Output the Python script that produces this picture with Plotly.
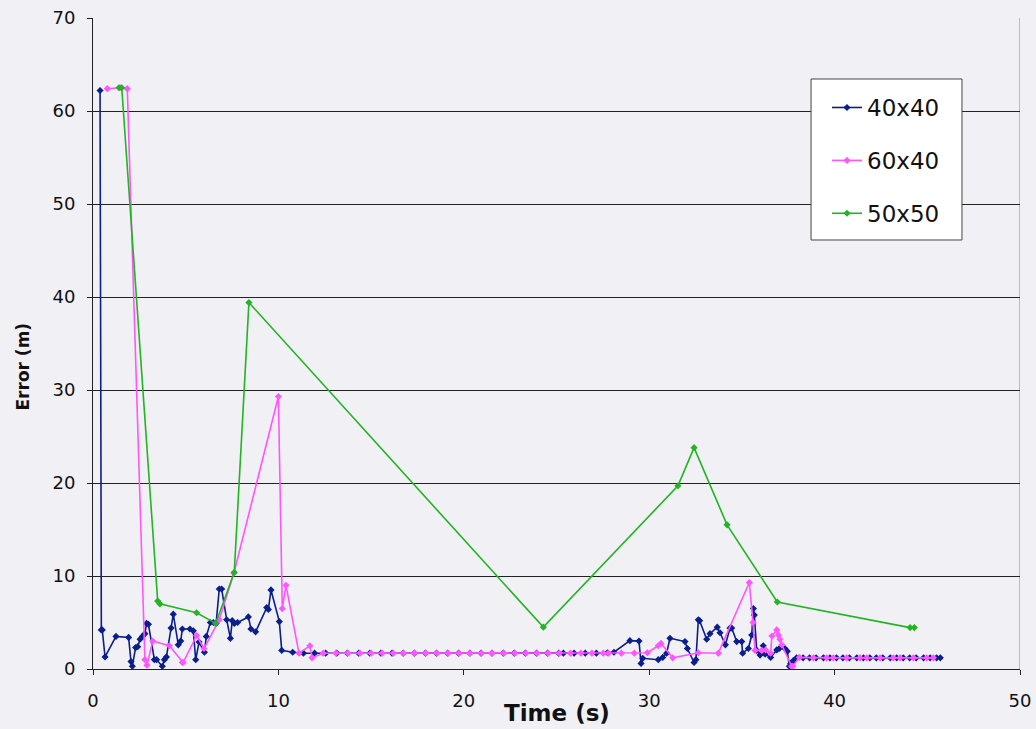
import plotly.graph_objects as go

# ---------------- data ----------------
t_40x40 = [0.38, 0.45, 0.50, 0.65, 1.24, 1.92, 2.05, 2.12, 2.30, 2.41, 2.54, 2.66, 2.80, 2.89, 2.99,
           3.31, 3.43, 3.74, 3.85, 3.96, 4.21, 4.33, 4.60, 4.73, 4.82, 5.23, 5.41, 5.54, 5.72, 6.01,
           6.11, 6.33, 6.49, 6.64, 6.81, 6.94, 7.21, 7.41, 7.51, 7.62, 7.80, 8.38, 8.52, 8.77, 9.37,
           9.46, 9.60, 10.05, 10.18, 10.77, 11.35, 11.95, 12.55, 13.15, 13.72, 14.33, 14.93, 15.53,
           16.13, 16.73, 17.33, 17.93, 18.53, 19.13, 19.72, 20.33, 20.93, 21.52, 22.13, 22.72, 23.32,
           23.93, 24.52, 25.12, 25.37, 25.95, 26.55, 27.15, 27.75, 28.10, 28.96, 29.45, 29.56, 29.65,
           30.49, 30.73, 30.94, 31.12, 31.93, 32.06, 32.42, 32.52, 32.65, 32.72, 33.10, 33.28, 33.67,
           33.82, 34.11, 34.36, 34.45, 34.72, 34.99, 35.04, 35.35, 35.53, 35.62, 35.67, 35.80, 35.98,
           36.15, 36.25, 36.55, 36.88, 37.02, 37.32, 37.45, 37.56, 37.63, 37.77, 37.95, 38.30, 38.65,
           39.00, 39.40, 39.75, 40.10, 40.45, 40.80, 41.20, 41.55, 41.90, 42.25, 42.60, 43.00, 43.35,
           43.70, 44.05, 44.40, 44.80, 45.15, 45.50, 45.70]
e_40x40 = [62.2, 4.2, 4.2, 1.3, 3.5, 3.4, 0.8, 0.3, 2.3, 2.4, 3.2, 3.5, 3.8, 4.9, 4.8,
           1.0, 1.0, 0.3, 1.0, 1.3, 4.4, 5.9, 2.6, 3.0, 4.3, 4.3, 4.1, 1.0, 2.9, 1.8,
           3.5, 5.0, 5.0, 4.9, 8.6, 8.6, 5.3, 3.3, 5.2, 4.9, 5.0, 5.6, 4.3, 4.0, 6.6,
           6.4, 8.5, 5.1, 2.0, 1.8, 1.7, 1.7, 1.7, 1.7, 1.7, 1.7, 1.7, 1.7,
           1.7, 1.7, 1.7, 1.7, 1.7, 1.7, 1.7, 1.7, 1.7, 1.7, 1.7, 1.7, 1.7,
           1.7, 1.7, 1.7, 1.7, 1.7, 1.7, 1.7, 1.75, 1.8, 3.05, 3.0, 0.6, 1.15,
           1.0, 1.25, 1.7, 3.3, 2.95, 2.2, 0.7, 1.0, 5.3, 5.2, 3.2, 3.8, 4.5,
           3.9, 2.6, 4.4, 4.4, 2.95, 2.95, 1.7, 2.2, 3.65, 6.5, 5.8, 2.0, 1.5,
           2.5, 1.6, 1.25, 2.05, 2.2, 2.2, 1.9, 0.3, 0.6, 0.9, 1.2, 1.2, 1.2,
           1.2, 1.2, 1.2, 1.2, 1.2, 1.2, 1.2, 1.2, 1.2, 1.2, 1.2, 1.2, 1.2,
           1.2, 1.2, 1.2, 1.2, 1.2, 1.2, 1.2]

t_60x40 = [0.77, 1.46, 1.85, 2.80, 2.91, 3.22, 4.12, 4.82, 4.86, 5.59, 5.99, 6.81, 7.60, 10.00,
           10.21, 10.41, 11.11, 11.70, 11.81, 12.42, 13.10, 13.75, 14.40, 15.00, 15.60, 16.20, 16.74,
           17.33, 17.95, 18.55, 19.15, 19.75, 20.33, 20.95, 21.52, 22.15, 22.75, 23.35, 23.95, 24.55,
           25.15, 25.75, 26.32, 26.91, 27.52, 27.80, 28.50, 29.20, 29.90, 30.49, 30.64, 31.27, 32.65,
           33.73, 35.40, 35.60, 35.71, 36.07, 36.28, 36.55, 36.62, 36.88, 36.97, 37.05, 37.15, 37.68,
           37.75, 38.10, 38.85, 39.57, 39.93, 40.65, 41.37, 41.73, 42.45, 43.17, 43.53, 44.25, 44.97,
           45.33]
e_60x40 = [62.4, 62.5, 62.4, 1.0, 0.4, 3.0, 2.5, 0.7, 0.7, 3.6, 2.2, 5.3, 10.3, 29.3,
           6.5, 9.0, 1.7, 2.5, 1.2, 1.7, 1.7, 1.7, 1.7, 1.7, 1.7, 1.7, 1.7,
           1.7, 1.7, 1.7, 1.7, 1.7, 1.7, 1.7, 1.7, 1.7, 1.7, 1.7, 1.7, 1.7,
           1.7, 1.7, 1.7, 1.7, 1.7, 1.7, 1.7, 1.7, 1.75, 2.5, 2.75, 1.2, 1.75,
           1.7, 9.3, 5.0, 2.0, 2.0, 2.05, 1.7, 3.55, 4.2, 3.65, 3.2, 2.6, 0.3,
           0.3, 1.25, 1.2, 1.2, 1.2, 1.2, 1.2, 1.2, 1.2, 1.2, 1.2, 1.2, 1.2,
           1.2]

t_50x50 = [1.40, 1.55, 3.49, 3.61, 5.59, 6.62, 7.62, 8.41, 24.29, 31.55, 32.42, 34.20, 36.91, 44.07, 44.30]
e_50x50 = [62.5, 62.5, 7.3, 7.0, 6.05, 4.9, 10.4, 39.4, 4.5, 19.7, 23.8, 15.5, 7.2, 4.45, 4.45]

series_names = ["40x40", "60x40", "50x50"]
series_colors = ["#0A1E8C", "#FF55FF", "#22B422"]

x_ticks = [0, 10, 20, 30, 40, 50]
y_ticks = [0, 10, 20, 30, 40, 50, 60, 70]

# ---------------- figure ----------------
fig = go.Figure()
for name, tx, ey, col in zip(series_names,
                             [t_40x40, t_60x40, t_50x50],
                             [e_40x40, e_60x40, e_50x50],
                             series_colors):
    fig.add_trace(go.Scatter(
        x=tx, y=ey, name=name, mode="lines+markers", legendgroup=name,
        line=dict(color=col, width=1.6),
        marker=dict(symbol="diamond", size=5.5, color=col),
    ))

bg = "#F1F0F5"
fig.update_layout(
    width=1036, height=729,
    margin=dict(l=93, r=16, t=18, b=60, autoexpand=False),
    paper_bgcolor=bg, plot_bgcolor=bg,
    font=dict(family="DejaVu Sans, Verdana, sans-serif", color="#111111"),
    showlegend=True,
    legend=dict(
        x=0.7918, y=0.8955, xanchor="left", yanchor="top",
        bgcolor="rgba(0,0,0,0)", borderwidth=0,
        font=dict(size=23, color="#111111"),
        tracegroupgap=20, itemwidth=30,
    ),
    xaxis=dict(
        range=[0, 50], tickvals=x_ticks, ticktext=[str(v) for v in x_ticks],
        showgrid=False, zeroline=False, automargin=False,
        showline=True, linecolor="#222222", linewidth=1,
        ticks="outside", ticklen=5, tickcolor="#222222",
        tickfont=dict(size=18), ticklabelstandoff=10,
    ),
    yaxis=dict(
        range=[0, 70], tickvals=y_ticks, ticktext=[str(v) for v in y_ticks],
        showgrid=True, gridcolor="#222222", gridwidth=1, zeroline=False, automargin=False,
        showline=True, linecolor="#222222", linewidth=1,
        ticks="outside", ticklen=5, tickcolor="#222222",
        tickfont=dict(size=18), ticklabelstandoff=8,
    ),
    shapes=[
        dict(type="line", xref="x", yref="y", x0=50, x1=50, y0=0, y1=70,
             line=dict(color="#888888", width=1), layer="below"),
        dict(type="rect", xref="paper", yref="paper", x0=0.7746, x1=0.9374, y0=0.659, y1=0.9063,
             fillcolor="white", line=dict(color="#444444", width=1), layer="above"),
    ],
    annotations=[
        dict(text="<b>Time (s)</b>", xref="paper", yref="paper", x=0.5, y=-0.0676,
             xanchor="center", yanchor="middle", showarrow=False,
             font=dict(size=23, color="#111111")),
        dict(text="<b>Error (m)</b>", xref="paper", yref="paper", x=-0.075, y=0.4654,
             xanchor="center", yanchor="middle", showarrow=False, textangle=-90,
             font=dict(size=17, color="#111111")),
    ],
)

fig.write_html(
    "out.html",
    config={"displayModeBar": False},
    post_script="document.body.style.margin='0';document.body.style.overflow='hidden';",
)
